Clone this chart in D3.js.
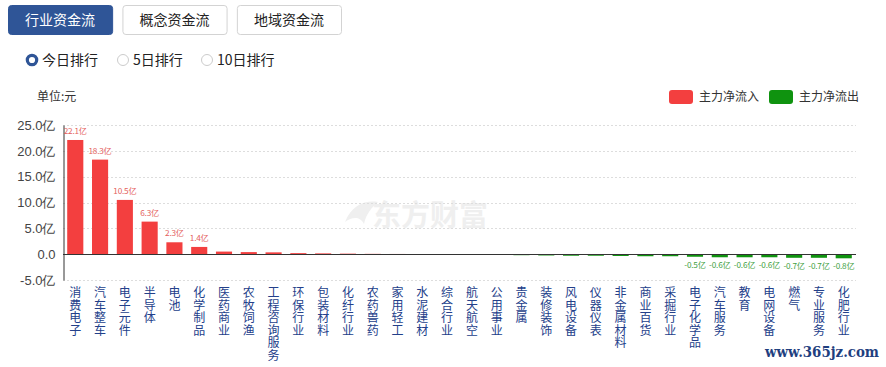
<!DOCTYPE html>
<html>
<head>
<meta charset="utf-8">
<script src="https://cdn.jsdelivr.net/npm/d3@7"></script>
<style>
  body { margin: 0; background: #fff; }
  svg { font-family: "Microsoft YaHei", "Noto Sans CJK SC", sans-serif; display: block; }
</style>
</head>
<body>
<div id="chart"></div>
<script>
// categories & values (亿元)
const industries = ["消费电子","汽车整车","电子元件","半导体","电池","化学制品","医药商业","农牧饲渔","工程咨询服务","环保行业","包装材料","化纤行业","农药兽药","家用轻工","水泥建材","综合行业","航天航空","公用事业","贵金属","装修装饰","风电设备","仪器仪表","非金属材料","商业百货","采掘行业","电子化学品","汽车服务","教育","电网设备","燃气","专业服务","化肥行业"]
const netFlow = [22.1,18.3,10.5,6.3,2.3,1.4,0.5,0.4,0.35,0.2,0.15,0.1,0.06,0.04,0.02,0.01,-0.05,-0.1,-0.2,-0.25,-0.3,-0.3,-0.35,-0.4,-0.4,-0.5,-0.6,-0.6,-0.6,-0.7,-0.7,-0.8]
// which bars carry a value label
const labelled = [0,1,2,3,4,5,25,26,27,28,29,30,31]
const yTicks = [-5,0,5,10,15,20,25]
const tabs = ["行业资金流","概念资金流","地域资金流"]
const radios = ["今日排行","5日排行","10日排行"]
const legendItems = [{name:"主力净流入", color:"#f33f3f"},{name:"主力净流出", color:"#0f930f"}]

const W = 886, H = 367
const svg = d3.select("#chart").append("svg").attr("width", W).attr("height", H)

// top tabs
const tabX = d3.scaleBand().domain(tabs).range([8, 341]).paddingInner(0.09)
tabs.forEach((t, i) => {
    const g = svg.append("g")
    g.append("rect")
        .attr("x", tabX(t) + 0.5).attr("y", 5.5)
        .attr("width", tabX.bandwidth()).attr("height", 29)
        .attr("rx", 3)
        .attr("fill", i == 0 ? "#2f5597" : "#fff")
        .attr("stroke", i == 0 ? "#2f5597" : "#d3d3d3")
    g.append("text")
        .attr("x", tabX(t) + tabX.bandwidth() / 2).attr("y", 25)
        .attr("text-anchor", "middle")
        .attr("font-size", 14)
        .attr("fill", i == 0 ? "#fff" : "#222")
        .text(t)
})

// radio options
const radioX = [32, 123, 207]
radios.forEach((r, i) => {
    svg.append("circle")
        .attr("cx", radioX[i]).attr("cy", 60).attr("r", i == 0 ? 4.7 : 5.5)
        .attr("fill", "#fff")
        .attr("stroke", i == 0 ? "#2f5597" : "#ccc")
        .attr("stroke-width", i == 0 ? 3.2 : 1)
    svg.append("text")
        .attr("x", radioX[i] + 10).attr("y", 65)
        .attr("font-size", 14).attr("fill", "#222")
        .text(r)
})

// unit & legend
svg.append("text").attr("x", 37).attr("y", 101).attr("font-size", 12).attr("fill", "#333").text("单位:元")
legendItems.forEach((d, i) => {
    const lx = 669 + i * 100
    svg.append("rect").attr("x", lx).attr("y", 90).attr("width", 24).attr("height", 14).attr("rx", 3).attr("fill", d.color)
    svg.append("text").attr("x", lx + 30).attr("y", 101).attr("font-size", 12).attr("fill", "#333").text(d.name)
})

// scales
const x = d3.scaleBand().domain(industries).range([63, 856]).paddingInner(0.35).paddingOuter(0.17)
const y = d3.scaleLinear().domain([-5, 25]).range([280, 125])

// watermark
const wm = svg.append("g").attr("fill", "#efefef")
wm.append("path")
    .attr("d", "M345,222 C352,205 365,200 378,202 C372,207 366,214 364,224 C360,216 352,217 345,222 Z")
wm.append("text").attr("x", 372).attr("y", 226).attr("font-size", 29).attr("font-weight", "bold").text("东方财富")

// grid lines
svg.append("g").selectAll("line")
    .data(yTicks.filter(v => v != 0))
    .join("line")
    .attr("x1", 63).attr("x2", 856)
    .attr("y1", d => Math.round(y(d)) + 0.5).attr("y2", d => Math.round(y(d)) + 0.5)
    .attr("stroke", "#ddd").attr("stroke-dasharray", "2,2")

// y axis
const yAxis = svg.append("g")
    .attr("transform", "translate(63.5,0)")
    .call(d3.axisLeft(y).tickValues(yTicks).tickSize(0).tickPadding(8)
        .tickFormat(v => v == 0 ? "0.0" : v.toFixed(1) + "亿"))
yAxis.select(".domain").attr("stroke", "#333")
yAxis.selectAll("text").attr("font-size", 13).attr("fill", "#444").attr("font-family", "inherit")

// bars
svg.append("g").selectAll("rect")
    .data(netFlow)
    .join("rect")
    .attr("x", (d, i) => x(industries[i]))
    .attr("width", x.bandwidth())
    .attr("y", d => d >= 0 ? y(d) : y(0))
    .attr("height", d => Math.max(Math.abs(y(d) - y(0)), 0.6))
    .attr("fill", d => d >= 0 ? "#f33f3f" : "#0f930f")

// zero line
svg.append("line")
    .attr("x1", 63).attr("x2", 856)
    .attr("y1", Math.round(y(0)) + 0.5).attr("y2", Math.round(y(0)) + 0.5)
    .attr("stroke", "#333")

// value labels
svg.append("g").selectAll("text")
    .data(labelled)
    .join("text")
    .attr("x", i => x(industries[i]) + x.bandwidth() / 2)
    .attr("y", i => netFlow[i] >= 0 ? y(netFlow[i]) - 6 : y(netFlow[i]) + 11)
    .attr("text-anchor", "middle")
    .attr("font-size", 8.2)
    .attr("letter-spacing", -0.2)
    .attr("fill", i => netFlow[i] >= 0 ? "#e4605c" : "#3f9f3f")
    .text(i => netFlow[i].toFixed(1) + "亿")

// x labels, one character per line
const xl = svg.append("g").selectAll("text")
    .data(industries)
    .join("text")
    .attr("x", d => x(d) + x.bandwidth() / 2)
    .attr("y", 297)
    .attr("text-anchor", "middle")
    .attr("font-size", 12)
    .attr("fill", "#23408a")
xl.each(function (d) {
    const t = d3.select(this)
    Array.from(d).forEach((c, k) => {
        t.append("tspan").attr("x", t.attr("x")).attr("y", 297 + k * 12.6).text(c)
    })
})

// site mark
svg.append("text")
    .attr("x", 765).attr("y", 357)
    .attr("font-size", 14).attr("font-weight", "bold")
    .attr("font-family", "'DejaVu Serif', serif")
    .attr("textLength", 114).attr("lengthAdjust", "spacingAndGlyphs")
    .attr("fill", "#1f3f7f")
    .text("www.365jz.com")
</script>
</body>
</html>
